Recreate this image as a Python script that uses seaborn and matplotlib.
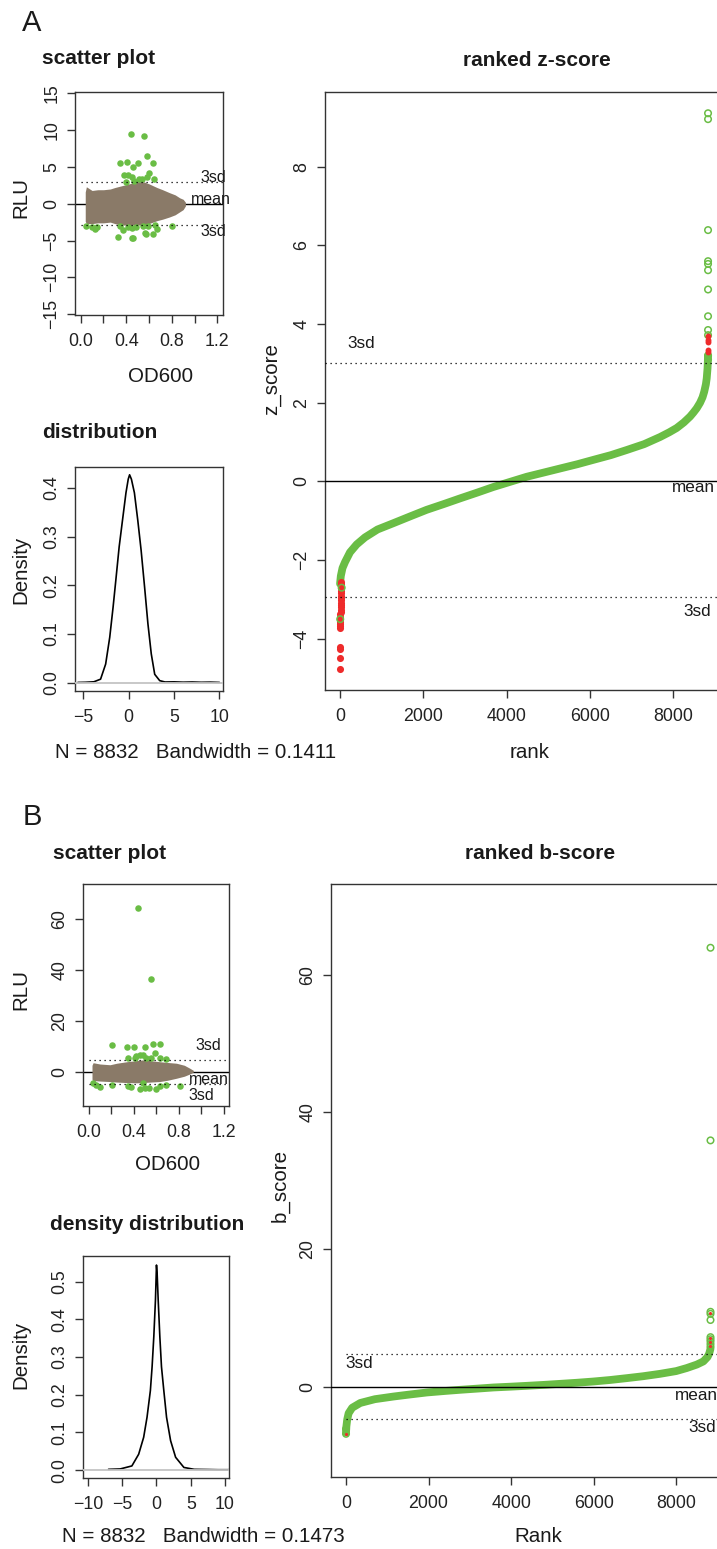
import matplotlib
matplotlib.use("Agg")
import matplotlib.pyplot as plt
import seaborn as sns

# ---------------- panel A data ----------------
# scatter: brown cloud envelope (OD600 -> upper / lower RLU)
a_cloud_od = [0.04, 0.05, 0.10, 0.15, 0.20, 0.26, 0.30, 0.35, 0.40, 0.45, 0.50, 0.55,
              0.60, 0.67, 0.72, 0.78, 0.83, 0.87, 0.90, 0.92]
a_cloud_hi = [1.6, 2.3, 1.8, 1.9, 1.9, 2.0, 2.2, 2.4, 2.6, 2.8, 3.0, 3.0,
              2.7, 2.2, 1.9, 1.5, 1.2, 0.8, 0.6, 0.2]
a_cloud_lo = [-2.4, -2.7, -2.7, -2.6, -2.6, -2.5, -2.7, -2.9, -2.9, -2.9, -2.9, -2.9,
              -2.7, -2.3, -2.1, -1.8, -1.5, -1.1, -0.8, -0.3]
# scatter: green hits
a_hit_od = [0.442, 0.556, 0.58, 0.345, 0.404, 0.50, 0.633, 0.457, 0.418, 0.603, 0.647,
            0.47, 0.51, 0.54, 0.58, 0.40, 0.45, 0.38,
            0.047, 0.10, 0.126, 0.325, 0.448, 0.574, 0.633, 0.375, 0.418, 0.447, 0.49,
            0.55, 0.59, 0.65, 0.667, 0.345, 0.80, 0.14, 0.46, 0.565]
a_hit_rlu = [9.43, 9.24, 6.48, 5.49, 5.71, 5.49, 5.57, 4.94, 3.9, 4.2, 3.3,
             3.1, 3.3, 3.3, 3.6, 3.0, 3.6, 3.9,
             -3.03, -3.2, -3.44, -4.48, -4.7, -4.16, -4.16, -3.57, -3.1, -3.3, -3.1,
             -3.03, -3.03, -2.9, -3.5, -3.0, -3.0, -3.1, -4.7, -4.0]
a_sd_hi, a_sd_lo = 3.0, -2.9

# density curve
a_dens_x = [-5.6, -4.8, -3.84, -3.1, -2.54, -2.09, -1.72, -1.42, -1.05, -0.68, -0.30, -0.05,
            0.1, 0.3, 0.63, 1.0, 1.37, 1.75, 2.12, 2.49, 2.87, 3.42, 4.0, 5.0, 6.0, 7.0,
            8.0, 9.0, 10.0]
a_dens_y = [0.0003, 0.0006, 0.0016, 0.007, 0.038, 0.093, 0.155, 0.21, 0.279, 0.334, 0.39, 0.418,
            0.427, 0.418, 0.39, 0.334, 0.272, 0.197, 0.121, 0.059, 0.017, 0.004, 0.0012, 0.0015,
            0.0008, 0.0012, 0.0006, 0.0009, 0.0003]

# ranked z-score
a_rank = [1, 20, 60, 120, 240, 400, 600, 900, 1280, 1700, 2080, 2500, 2880, 3300, 3680,
          4080, 4480, 4900, 5280, 5700, 6080, 6500, 6880, 7300, 7680, 7900, 8080, 8250,
          8400, 8480, 8560, 8640, 8700, 8740, 8780, 8800, 8820, 8832]
a_z = [-2.6, -2.4, -2.2, -2.05, -1.8, -1.6, -1.42, -1.22, -1.06, -0.88, -0.72, -0.57, -0.43,
       -0.28, -0.14, -0.01, 0.12, 0.23, 0.33, 0.44, 0.55, 0.67, 0.80, 0.95, 1.13, 1.25, 1.36,
       1.5, 1.65, 1.75, 1.86, 2.0, 2.14, 2.28, 2.47, 2.62, 2.88, 3.2]
a_top_open = [9.36, 9.21, 6.39, 5.6, 5.53, 5.37, 4.88, 4.2, 3.85, 3.72, 3.2, 3.1]
a_top_red = [3.70, 3.6, 3.55, 3.34, 3.3]
a_low_red_rank = [1, 2, 3, 4, 5, 6, 7, 8, 9, 10, 11, 12, 13, 14, 15, 16, 17, 18, 19, 20,
                  21, 22, 23, 24, 25]
a_low_red_z = [-4.76, -4.48, -4.26, -4.21, -3.73, -3.68, -3.62, -3.56, -3.5, -3.44, -3.38,
               -3.32, -3.26, -3.2, -3.14, -3.08, -3.02, -2.96, -2.9, -2.84, -2.78, -2.72,
               -2.66, -2.6, -2.55]
a_low_open_rank = [5, 40]
a_low_open_z = [-3.5, -2.7]
a_n = 8832

# ---------------- panel B data ----------------
b_cloud_od = [0.03, 0.04, 0.10, 0.19, 0.25, 0.34, 0.42, 0.48, 0.55, 0.63, 0.70, 0.78,
              0.85, 0.90, 0.93]
b_cloud_hi = [2.5, 3.5, 3.0, 2.7, 3.3, 3.9, 4.3, 4.6, 4.3, 3.9, 3.6, 3.3, 2.5, 1.3, 0.5]
b_cloud_lo = [-3.0, -3.5, -3.7, -3.9, -4.1, -4.3, -4.4, -4.3, -4.1, -3.9, -3.4, -2.6,
              -1.8, -0.9, -0.2]
b_hit_od = [0.44, 0.55, 0.21, 0.34, 0.40, 0.50, 0.575, 0.63,
            0.35, 0.41, 0.453, 0.507, 0.557, 0.587, 0.63, 0.684, 0.424, 0.483,
            0.04, 0.068, 0.098, 0.21, 0.35, 0.38, 0.453, 0.498, 0.536, 0.60, 0.63,
            0.684, 0.81, 0.483]
b_hit_rlu = [64.3, 36.3, 10.6, 9.6, 9.6, 9.6, 10.8, 11.0,
             5.2, 5.2, 6.6, 5.2, 5.2, 7.2, 5.2, 4.9, 6.0, 6.4,
             -4.6, -5.2, -6.1, -5.2, -5.6, -5.9, -6.9, -6.5, -6.5, -6.9, -5.6,
             -5.2, -5.6, -4.6]
b_sd_hi, b_sd_lo = 4.6, -4.8

b_dens_x = [-7.0, -5.3, -3.59, -2.6, -1.87, -1.38, -0.89, -0.64, -0.39, -0.15, 0.0, 0.1,
            0.25, 0.49, 0.73, 1.07, 1.47, 2.06, 2.79, 4.0, 5.5, 7.5, 9.0, 10.6]
b_dens_y = [0.002, 0.003, 0.011, 0.042, 0.087, 0.14, 0.211, 0.274, 0.354, 0.451, 0.544, 0.52,
            0.451, 0.354, 0.274, 0.211, 0.14, 0.078, 0.034, 0.007, 0.002, 0.0015, 0.001, 0.001]

b_rank = [1, 10, 30, 64, 150, 347, 700, 1154, 1500, 1961, 2400, 2768, 3200, 3575, 4000,
          4382, 4800, 5189, 5600, 5996, 6400, 6803, 7200, 7610, 8000, 8255, 8500, 8659,
          8760, 8800, 8832]
b_score = [-6.7, -5.8, -4.8, -3.9, -3.1, -2.4, -1.85, -1.46, -1.2, -0.87, -0.65, -0.48,
           -0.3, -0.14, -0.02, 0.1, 0.24, 0.39, 0.55, 0.73, 0.95, 1.22, 1.5, 1.85, 2.25,
           2.69, 3.2, 3.66, 4.3, 4.8, 5.5]
b_top_open = [64.0, 35.9, 10.9, 10.6, 9.7, 7.2, 6.9, 6.6, 6.2, 5.8]
b_top_red = [10.7, 7.1, 6.5, 5.9]
b_low_open = [-6.9, -6.2]
b_low_red = [-6.9]
b_sd_rank_hi, b_sd_rank_lo = 4.72, -4.75
b_n = 8832

GREEN = '#6abd45'
RED = '#ee2b2b'
BROWN = '#8a7a68'
INK = '#1a1a1a'

sns.set_style("white")
plt.rcParams['font.family'] = ['Liberation Sans', 'DejaVu Sans']

W, H = 717, 1549
fig = plt.figure(figsize=(W / 100, H / 100), dpi=100)


def add_ax(l, t, r, b):
    return fig.add_axes([l / W, 1 - b / H, (r - l) / W, (b - t) / H])


def put(x, y, s, size=14.8, **kw):
    kw.setdefault('ha', 'center')
    kw.setdefault('va', 'center')
    fig.text(x / W, 1 - y / H, s, fontsize=size, color=INK, **kw)


def frame(ax, xlim, ylim, xticks, yticks, xlabels=None):
    ax.set_xlim(xlim)
    ax.set_ylim(ylim)
    ax.set_xticks(xticks)
    ax.set_yticks(yticks)
    if xlabels is not None:
        ax.set_xticklabels(xlabels)
    ax.set_xlabel('')
    ax.set_ylabel('')
    ax.tick_params(axis='both', bottom=True, left=True, direction='out', length=6,
                   width=1, color='#333333', labelsize=12.8, labelcolor='#222222')
    ax.tick_params(axis='x', pad=7)
    ax.tick_params(axis='y', pad=4.5, labelrotation=90)
    for lab in ax.get_yticklabels():
        lab.set_va('center')
    for sp in ax.spines.values():
        sp.set_color('#333333')
        sp.set_linewidth(1)
    ax.grid(False)


def dotted(ax, y, start=None):
    xl = ax.get_xlim()
    xmin = 0 if start is None else (start - xl[0]) / (xl[1] - xl[0])
    ax.axhline(y, xmin=xmin, color='black', lw=0.9, ls=(0, (1, 3)), zorder=5)


def scatter_panel(ax, cx, chi, clo, hx, hy, sd_hi, sd_lo):
    ax.axhline(0, color='black', lw=1, zorder=1)
    ax.fill_between(cx, clo, chi, color=BROWN, lw=0, zorder=2)
    sns.scatterplot(x=hx, y=hy, color=GREEN, s=22, linewidth=0, ax=ax, zorder=3)
    dotted(ax, sd_hi, start=0)
    dotted(ax, sd_lo, start=0)


def density_panel(ax, dx, dy):
    sns.lineplot(x=dx, y=dy, color='black', lw=1.2, estimator=None, ax=ax, zorder=2)
    ax.axhline(0, color='#c4c4c4', lw=1.3, zorder=3)


# ======================= A =======================
ax = add_ax(75, 92, 223, 315)
frame(ax, (-0.05, 1.25), (-15.12, 15.18), [0, 0.2, 0.4, 0.6, 0.8, 1.0, 1.2],
      [-15, -10, -5, 0, 5, 10, 15], ['0.0', '', '0.4', '', '0.8', '', '1.2'])
scatter_panel(ax, a_cloud_od, a_cloud_hi, a_cloud_lo, a_hit_od, a_hit_rlu, a_sd_hi, a_sd_lo)

ax = add_ax(75, 467, 223, 691)
frame(ax, (-5.92, 10.4), (-0.0173, 0.443), [-5, 0, 5, 10], [0.0, 0.1, 0.2, 0.3, 0.4])
density_panel(ax, a_dens_x, a_dens_y)

ax = add_ax(325, 92, 723, 690)
frame(ax, (-360, 9191), (-5.3, 9.9), [0, 2000, 4000, 6000, 8000], [-4, -2, 0, 2, 4, 6, 8])
sns.lineplot(x=a_rank, y=a_z, color=GREEN, lw=5.6, estimator=None, ax=ax, zorder=2,
             solid_capstyle='round', solid_joinstyle='round')
ax.scatter([a_n] * len(a_top_open), a_top_open, s=22, facecolors='none',
           edgecolors=GREEN, linewidths=1.1, zorder=3)
ax.scatter(a_low_open_rank, a_low_open_z, s=22, facecolors='none',
           edgecolors=GREEN, linewidths=1.1, zorder=4)
sns.scatterplot(x=[a_n] * len(a_top_red), y=a_top_red, color=RED, s=18, linewidth=0,
                ax=ax, zorder=4)
sns.scatterplot(x=a_low_red_rank, y=a_low_red_z, color=RED, s=26, linewidth=0,
                ax=ax, zorder=3)
ax.axhline(0, color='black', lw=1, zorder=6)
dotted(ax, 3.0)
dotted(ax, -2.94)

put(32, 23, 'A', size=21)
put(42, 58, 'scatter plot', size=15, weight='bold', ha='left')
put(21, 198, 'RLU', rotation=90)
put(161, 377, 'OD600')
put(200, 177, '3sd', size=11.5, ha='left')
put(191, 199, 'mean', size=11.5, ha='left')
put(200, 232, '3sd', size=11.5, ha='left')
put(42, 432, 'distribution', size=15, weight='bold', ha='left')
put(21, 570, 'Density', rotation=90)
put(196, 752, 'N = 8832   Bandwidth = 0.1411')
put(537, 60, 'ranked z-score', size=15, weight='bold')
put(272, 379, 'z_score', rotation=90)
put(530, 752, 'rank')
put(347, 343, '3sd', size=12.3, ha='left')
put(672, 488, 'mean', size=12.3, ha='left')
put(683, 612, '3sd', size=12.3, ha='left')

# ======================= B =======================
ax = add_ax(83, 884, 229, 1106)
frame(ax, (-0.05, 1.247), (-13.5, 73.7), [0, 0.2, 0.4, 0.6, 0.8, 1.0, 1.2],
      [0, 20, 40, 60], ['0.0', '', '0.4', '', '0.8', '', '1.2'])
scatter_panel(ax, b_cloud_od, b_cloud_hi, b_cloud_lo, b_hit_od, b_hit_rlu, b_sd_hi, b_sd_lo)

ax = add_ax(83, 1256, 229, 1478)
frame(ax, (-10.72, 10.58), (-0.021, 0.568), [-10, -5, 0, 5, 10],
      [0.0, 0.1, 0.2, 0.3, 0.4, 0.5])
density_panel(ax, b_dens_x, b_dens_y)

ax = add_ax(331, 884, 723, 1477)
frame(ax, (-363, 9135), (-13.2, 73.3), [0, 2000, 4000, 6000, 8000], [0, 20, 40, 60])
sns.lineplot(x=b_rank, y=b_score, color=GREEN, lw=5.6, estimator=None, ax=ax, zorder=2,
             solid_capstyle='round', solid_joinstyle='round')
ax.scatter([b_n] * len(b_top_open), b_top_open, s=22, facecolors='none',
           edgecolors=GREEN, linewidths=1.1, zorder=3)
ax.scatter([1] * len(b_low_open), b_low_open, s=22, facecolors='none',
           edgecolors=GREEN, linewidths=1.1, zorder=3)
sns.scatterplot(x=[b_n] * len(b_top_red), y=b_top_red, color=RED, s=5, linewidth=0,
                ax=ax, zorder=4)
sns.scatterplot(x=[1] * len(b_low_red), y=b_low_red, color=RED, s=5, linewidth=0,
                ax=ax, zorder=4)
ax.axhline(0, color='black', lw=1, zorder=6)
dotted(ax, b_sd_rank_hi, start=0)
dotted(ax, b_sd_rank_lo, start=0)

put(32, 817, 'B', size=21)
put(53, 853, 'scatter plot', size=15, weight='bold', ha='left')
put(21, 990, 'RLU', rotation=90)
put(168, 1165, 'OD600')
put(195, 1046, '3sd', size=11.5, ha='left')
put(189, 1079, 'mean', size=11.5, ha='left')
put(188, 1095, '3sd', size=11.5, ha='left')
put(50, 1224, 'density distribution', size=15, weight='bold', ha='left')
put(21, 1355, 'Density', rotation=90)
put(203, 1537, 'N = 8832   Bandwidth = 0.1473')
put(540, 853, 'ranked b-score', size=15, weight='bold')
put(280, 1186, 'b_score', rotation=90)
put(538, 1537, 'Rank')
put(345, 1363, '3sd', size=12.3, ha='left')
put(675, 1395, 'mean', size=12.3, ha='left')
put(688, 1427, '3sd', size=12.3, ha='left')

fig.savefig('out.png', dpi=100)
